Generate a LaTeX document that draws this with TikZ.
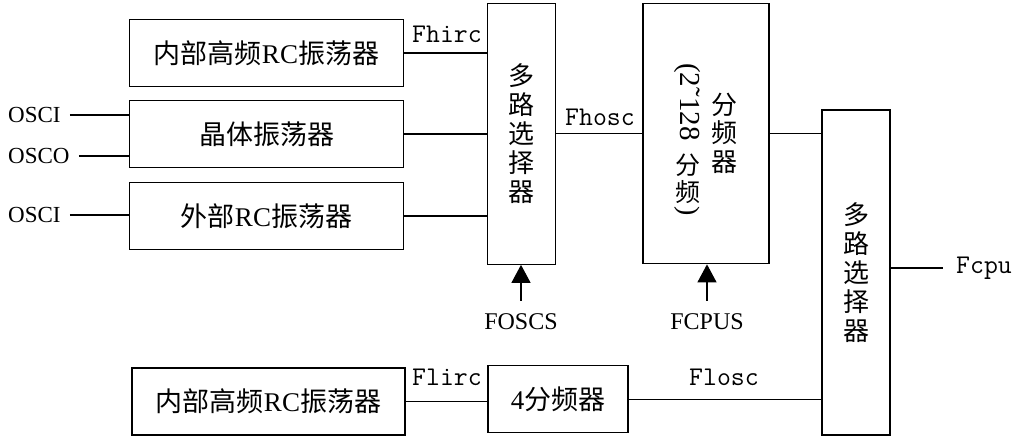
\documentclass[tikz,border=0pt]{standalone}
\usepackage{fontspec}
\setmainfont{Liberation Serif}
\newfontfamily\cjk{Noto Sans CJK SC}
\usetikzlibrary{arrows.meta,positioning}

\begin{document}
\begin{tikzpicture}[
    x=1pt, y=-1pt,
    wire/.style={line width=1.2pt},
    box/.style={draw, wire, inner sep=0pt, minimum width=274pt, minimum height=67pt, align=center, font=\fontsize{27}{30}\selectfont},
    mux/.style={draw, wire, inner sep=0pt, minimum width=68pt, align=center, font=\cjk\fontsize{26}{29}\selectfont},
    sig/.style={font=\ttfamily\fontsize{27}{30}\selectfont, inner sep=2pt},
    pin/.style={font=\fontsize{23}{28}\selectfont, inner sep=2pt},
    ctrl/.style={wire, -{Triangle[length=18pt,width=19pt]}}
]
\useasboundingbox (0,0) rectangle (1018,436);

% Clock sources
\node[box] (hirc) at (266.5,53) {\cjk 内部高频\rmfamily RC\cjk 振荡器};
\node[box] (xtal) at (266.5,134) {\cjk 晶体振荡器};
\node[box] (extrc) at (266.5,216) {\cjk 外部\rmfamily RC\cjk 振荡器};
\node[box, minimum width=273pt] (lirc) at (268.5,401.5) {\cjk 内部高频\rmfamily RC\cjk 振荡器};

% Pins
\node[pin, anchor=west] (osci) at (6,115) {OSCI};
\node[pin, anchor=west] (osco) at (6,156) {OSCO};
\node[pin, anchor=west] (oscirc) at (6,215) {OSCI};

% Selectors and dividers
\node[mux, minimum height=261pt] (mux1) at (521.5,133.75) {多\\路\\选\\择\\器};
\node[draw, wire, inner sep=0pt, minimum width=126pt, minimum height=260pt] (div) at (706,133.75) {};
\node[font=\cjk\fontsize{26}{28.5}\selectfont, align=center] (divname) at (724,133) {分\\频\\器};
\node[rotate=-90, anchor=west, inner sep=0pt, font=\fontsize{29}{30}\selectfont] (ratio) at (687,63) {(2˜128};
\node[inner sep=0pt, align=center, font=\cjk\fontsize{25}{27.5}\selectfont] (ratiocn) at (688,179) {分\\频};
\node[rotate=-90, inner sep=0pt, font=\fontsize{28}{30}\selectfont] (ratioend) at (687,211) {)};
\node[mux, minimum height=325pt] (mux2) at (856,272.5) {多\\路\\选\\择\\器};
\node[box, minimum width=140pt] (div4) at (558,399.2) {4\cjk 分频器};

% Signal names
\node[sig] (fhirc) at (447,34) {Fhirc};
\node[sig] (fhosc) at (600,117) {Fhosc};
\node[sig] (flirc) at (447,377) {Flirc};
\node[sig] (flosc) at (724,377) {Flosc};
\node[sig, anchor=west] (fcpu) at (954,268) {Fcpu};
\node[pin, font=\fontsize{24}{28}\selectfont] (foscs) at (521,322) {FOSCS};
\node[pin, font=\fontsize{24}{28}\selectfont] (fcpus) at (707,322) {FCPUS};

% Wires
\draw[wire, shorten <=7pt] (osci.east) -- (osci.east -| xtal.west);
\draw[wire, shorten <=7pt] (osco.east) -- (osco.east -| xtal.west);
\draw[wire, shorten <=7pt] (oscirc.east) -- (oscirc.east -| extrc.west);
\draw[wire] (hirc.east) -- (hirc.east -| mux1.west);
\draw[wire] (xtal.east) -- (xtal.east -| mux1.west);
\draw[wire] (extrc.east) -- (extrc.east -| mux1.west);
\draw[wire] (mux1.east) -- (div.west);
\draw[wire] (div.east) -- (div.east -| mux2.west);
\draw[wire] (lirc.east) -- (lirc.east -| div4.west);
\draw[wire] (div4.east) -- (div4.east -| mux2.west);
\draw[wire, shorten >=11pt] (mux2.east |- fcpu.west) -- (fcpu.west);

% Select inputs
\draw[ctrl, shorten <=11pt] (foscs.north) -- (foscs.north |- mux1.south);
\draw[ctrl, shorten <=11pt] (fcpus.north) -- (fcpus.north |- div.south);

\end{tikzpicture}
\end{document}
